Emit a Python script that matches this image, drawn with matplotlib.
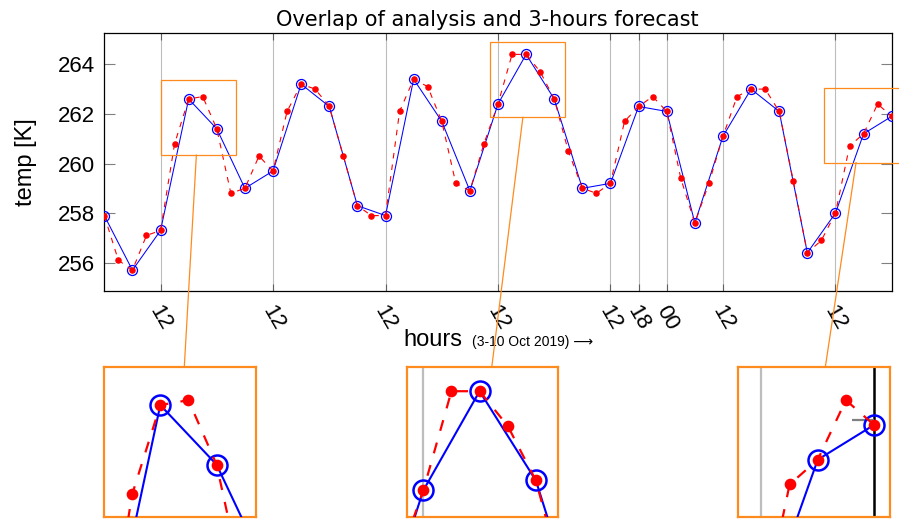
import numpy as np
import matplotlib
matplotlib.use("Agg")
import matplotlib.pyplot as plt
from matplotlib.patches import Rectangle
from matplotlib.lines import Line2D
from matplotlib.offsetbox import TextArea, HPacker, AnnotationBbox

plt.rcParams['font.family'] = ['Liberation Sans', 'DejaVu Sans']

# analysis every 6 h, forecast every 3 h (hours since 3 Oct 2019 00 UTC)
hours_an = np.arange(0, 169, 6)
temp_an = [257.9, 255.7, 257.3, 262.6, 261.4, 259.0, 259.7, 263.2, 262.3, 258.3,
           257.9, 263.4, 261.7, 258.9, 262.4, 264.4, 262.6, 259.0, 259.2, 262.3,
           262.1, 257.6, 261.1, 263.0, 262.1, 256.4, 258.0, 261.2, 261.9]
hours_fc = np.arange(0, 169, 3)
temp_fc = [257.9, 256.1, 255.7, 257.1, 257.3, 260.8, 262.6, 262.7, 261.4, 258.8,
           259.0, 260.3, 259.7, 262.1, 263.2, 263.0, 262.3, 260.3, 258.3, 257.9,
           257.9, 262.1, 263.4, 263.1, 261.7, 259.2, 258.9, 260.8, 262.4, 264.4,
           264.4, 263.7, 262.6, 260.5, 259.0, 258.8, 259.2, 261.7, 262.3, 262.7,
           262.1, 259.4, 257.6, 259.2, 261.1, 262.7, 263.0, 263.0, 262.1, 259.3,
           256.4, 256.9, 258.0, 260.7, 261.2, 262.4, 261.9]
tick_hours = [12, 36, 60, 84, 108, 114, 120, 132, 156]
tick_labels = ['12', '12', '12', '12', '12', '18', '00', '12', '12']
y_ticks = [256, 258, 260, 262, 264]

# spy windows: centre (data units), size, and left edge of magnified copy (px)
spy_centres = [(20.1, 261.85), (90.3, 263.37), (161.6, 261.55)]
spy_w, spy_h = 16.14, 3.024
spy_left_px = [104.3, 406.7, 738.3]
orange = '#ff8a1e'

W, H = 899, 519
fig = plt.figure(figsize=(W / 100, H / 100), dpi=100)
ax = fig.add_axes([104.3 / W, 1 - 291 / H, 787.4 / W, 257.7 / H])


def draw_series(a, s):
    a.plot(hours_an, temp_an, color='blue', lw=0.75 * s, marker='o', ms=7.2 * s,
           mfc='none', mew=0.9 * s, zorder=3)
    a.plot(hours_fc, temp_fc, color='red', lw=0.8 * s, ls=(0, (5, 5.5)), marker='o',
           ms=3.7 * s, zorder=4)


draw_series(ax, 1)
ax.set_xticks(tick_hours, tick_labels, rotation=-60, fontsize=16)
ax.set_yticks(y_ticks)
ax.set_xlim(0, 168)
ax.set_ylim(254.86, 265.25)
ax.tick_params(axis='y', direction='in', length=8, width=0.8, color='#808080',
               left=True, right=True, pad=7, labelsize=16)
ax.tick_params(axis='x', direction='in', length=5, width=0.8, color='#606060',
               top=True, bottom=True, pad=8)
ax.grid(axis='x', color='#bdbdbd', lw=0.8)
for sp in ax.spines.values():
    sp.set_linewidth(0.9)
ax.set_title("Overlap of analysis and 3-hours forecast", fontsize=15,
             family=['DejaVu Sans'], pad=5, x=0.487)
ax.set_ylabel("temp [K]", fontsize=17)
ax.yaxis.set_label_coords(-0.086, 0.5)

t1 = TextArea("hours", textprops=dict(fontsize=17))
t2 = TextArea("(3-10 Oct 2019) \u27f6", textprops=dict(fontsize=10))
pack = HPacker(children=[t1, t2], align='baseline', pad=0, sep=7)
ax.add_artist(AnnotationBbox(pack, (0.5, -0.19), xycoords='axes fraction',
                             frameon=False, box_alignment=(0.5, 0.5)))

x_end = ax.get_xlim()[1]
tick_len = 8 / 72 * 100 / (787.4 / 168)
inv = fig.transFigure.inverted()
for (cx, cy), left in zip(spy_centres, spy_left_px):
    axi = fig.add_axes([left / W, 1 - 517.3 / H, 151.4 / W, 150 / H])
    draw_series(axi, 2)
    axi.set_xticks(tick_hours)
    axi.grid(axis='x', color='#bdbdbd', lw=1.6)
    axi.axvline(x_end, color='black', lw=1.8, zorder=2)
    axi.hlines(y_ticks, x_end - tick_len, x_end, color='#808080', lw=1.6, zorder=2)
    axi.tick_params(length=0, labelbottom=False, labelleft=False)
    axi.set_xlim(cx - spy_w / 2, cx + spy_w / 2)
    axi.set_ylim(cy - spy_h / 2, cy + spy_h / 2)
    for sp in axi.spines.values():
        sp.set_color(orange)
        sp.set_linewidth(1.6)

    ax.add_patch(Rectangle((cx - spy_w / 2, cy - spy_h / 2), spy_w, spy_h, fill=False,
                           ec=orange, lw=0.9, clip_on=False, zorder=6))
    # connector between the two centres, clipped at the boxes
    p1 = ax.transData.transform((cx, cy))
    p2 = axi.transAxes.transform((0.5, 0.5))
    yb = ax.transData.transform((cx, cy - spy_h / 2))[1]
    yt = axi.transAxes.transform((0.5, 1.0))[1]
    xa = p1[0] + (p2[0] - p1[0]) * (p1[1] - yb) / (p1[1] - p2[1])
    xb = p1[0] + (p2[0] - p1[0]) * (p1[1] - yt) / (p1[1] - p2[1])
    (fx0, fy0), (fx1, fy1) = inv.transform([(xa, yb), (xb, yt)])
    fig.add_artist(Line2D([fx0, fx1], [fy0, fy1], color=orange, lw=0.9))

fig.savefig("out.png", dpi=100)
